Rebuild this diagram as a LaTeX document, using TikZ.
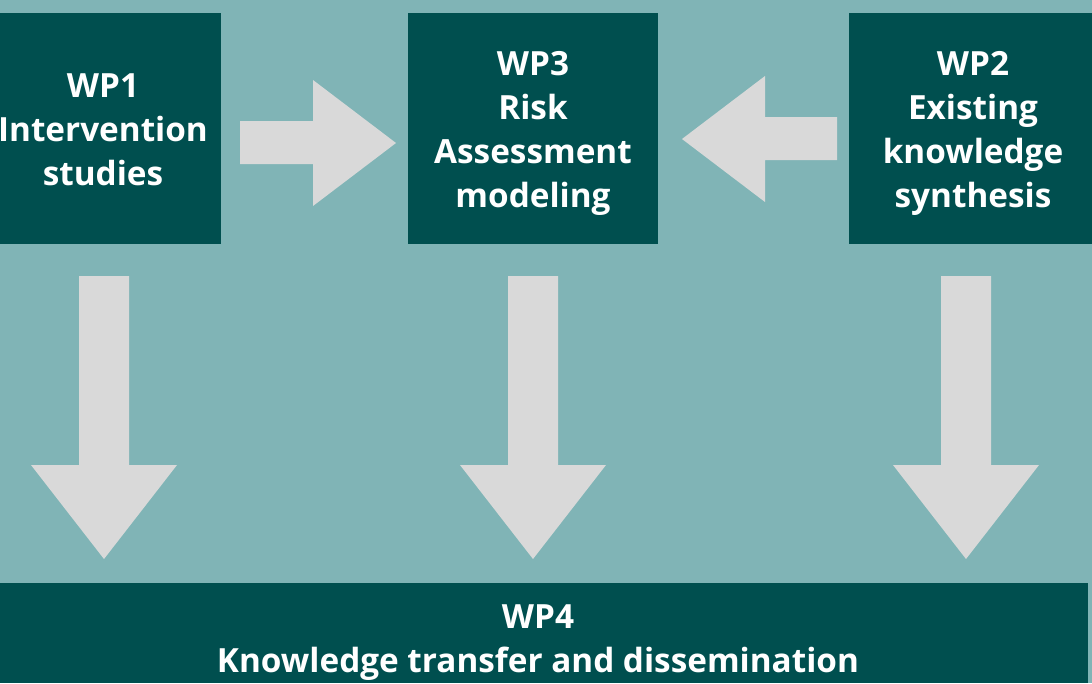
\documentclass[tikz,border=0pt]{standalone}
\usepackage{fontspec}
\setmainfont{Open Sans}
\definecolor{bgteal}{HTML}{80B4B6}
\definecolor{darkteal}{HTML}{004F4F}
\definecolor{arrowgray}{HTML}{D9D9D9}
\begin{document}
\begin{tikzpicture}[x=1pt,y=-1pt,
  wptext/.style={text=white,align=center,inner sep=0pt,
    font=\fontsize{33.3}{44}\selectfont\bfseries},
  blockarrow/.style={fill=arrowgray,draw=none}]
\fill[bgteal] (0,0) rectangle (1092,683);
\useasboundingbox (0,0) rectangle (1092,683);
% boxes
\fill[darkteal] (0,13) rectangle (221,244);
\node[wptext] (wp1) at (103,130) {WP1\\Intervention\\studies};
\fill[darkteal] (408,13) rectangle (658,244);
\node[wptext] (wp3) at (533,133) {WP3\\Risk\\Assessment\\modeling};
\fill[darkteal] (849,13) rectangle (1092,244);
\node[wptext] (wp2) at (973,133) {WP2\\Existing\\knowledge\\synthesis};
\fill[darkteal] (0,583) rectangle (1088,683);
\node[wptext] (wp4) at (538,643) {WP4\\Knowledge transfer and dissemination};
% horizontal arrows
\fill[blockarrow] (240,121) -- (313,121) -- (313,80) -- (396,143) -- (313,206) -- (313,164) -- (240,164) -- cycle;
\fill[blockarrow] (837,117) -- (765,117) -- (765,76) -- (682,139) -- (765,202) -- (765,160) -- (837,160) -- cycle;
% down arrows
\foreach \cx in {104,533,966}{
  \fill[blockarrow] (\cx-25,276) -- (\cx+25,276) -- (\cx+25,465) -- (\cx+73,465) -- (\cx,559) -- (\cx-73,465) -- (\cx-25,465) -- cycle;
}
\end{tikzpicture}
\end{document}
